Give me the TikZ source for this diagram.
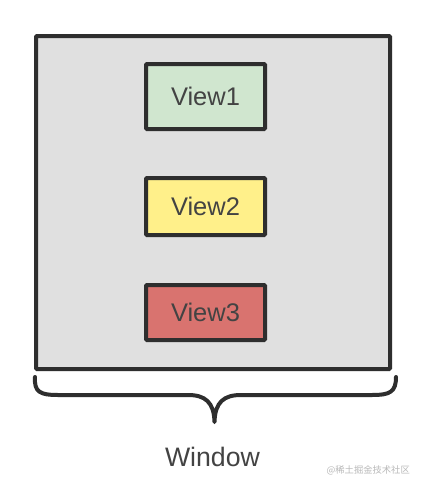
\documentclass[tikz,border=0pt]{standalone}
\usepackage{fontspec}
\setmainfont{Liberation Sans}
\newfontfamily\cjk{Noto Sans CJK SC}
\definecolor{edge}{HTML}{2E2E2E}
\definecolor{winfill}{HTML}{E0E0E0}
\definecolor{gfill}{HTML}{D0E6CF}
\definecolor{yfill}{HTML}{FFF08A}
\definecolor{rfill}{HTML}{D9736F}
\begin{document}
\begin{tikzpicture}[x=1pt,y=-1pt,
  viewbox/.style={draw=edge,line width=4pt,rounded corners=1pt,minimum width=119pt,minimum height=62pt,inner sep=0pt,font=\fontsize{25.5}{30}\selectfont,text=edge!90},
]
\useasboundingbox[fill=white] (0,0) rectangle (422,488);
\node[draw=edge,fill=winfill,line width=4pt,rounded corners=1pt,minimum width=354pt,minimum height=333pt,inner sep=0pt] (win) at (213,202.5) {};
\node[viewbox,fill=gfill,minimum height=65pt] (v1) at (205.5,96.5) {View1};
\node[viewbox,fill=yfill,minimum height=57pt] (v2) at (205.5,206.5) {View2};
\node[viewbox,fill=rfill,minimum height=55pt] (v3) at (205.5,312.5) {View3};
\coordinate (bl) at (35,377);
\coordinate (br) at (396,377);
\coordinate (bt) at (214.5,422);
\draw[edge,line width=4pt,line cap=round,line join=round]
  (bl) .. controls (34,392) and (40,395) .. (58,395)
  -- (188,395) .. controls (205,395) and (214,402) .. (bt)
  .. controls (215,402) and (224,395) .. (241,395)
  -- (372,395) .. controls (390,395) and (396,392) .. (br);
\node[font=\fontsize{26.7}{30}\selectfont,text=edge!90] (lbl) at (212.5,457) {Window};
\node[font=\cjk\fontsize{9.3}{11}\selectfont,text=gray!55,anchor=east,inner sep=0pt] (wm) at (410,470) {@稀土掘金技术社区};
\end{tikzpicture}
\end{document}
